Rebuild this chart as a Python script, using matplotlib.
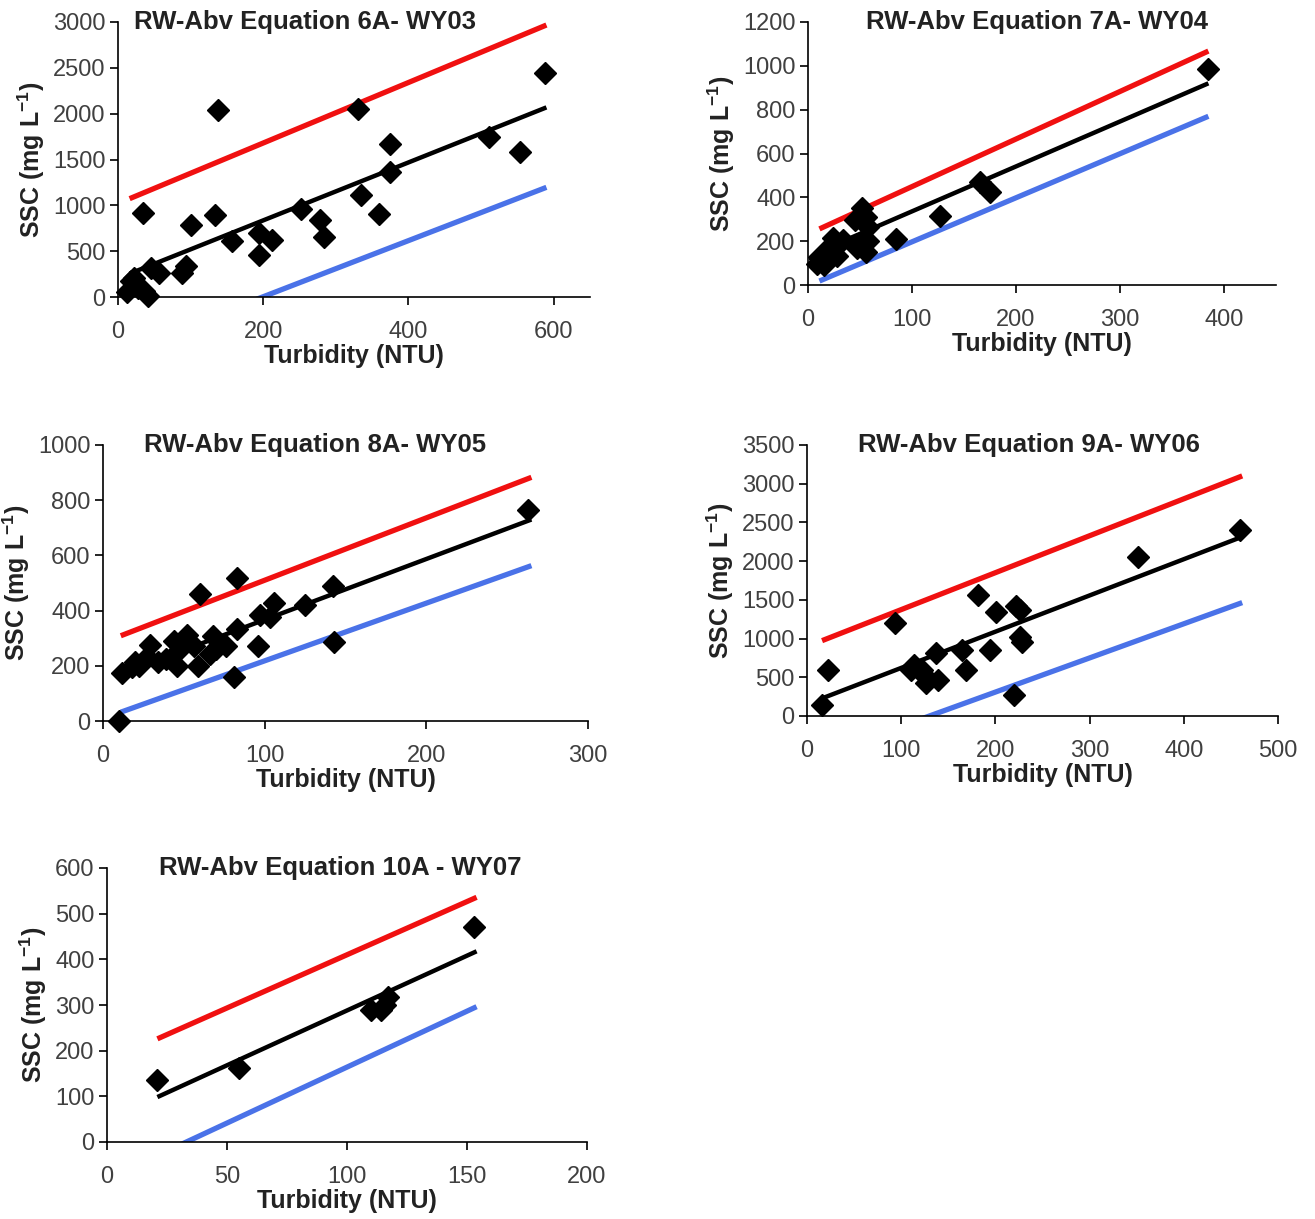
import numpy as np
import matplotlib
matplotlib.use('Agg')
import matplotlib.pyplot as plt

plt.rcParams['font.family'] = ['Liberation Sans', 'DejaVu Sans']
plt.rcParams['mathtext.fontset'] = 'custom'
plt.rcParams['mathtext.rm'] = 'Liberation Sans'
plt.rcParams['mathtext.bf'] = 'Liberation Sans:bold'

# Turbidity (NTU) and SSC (mg/L) samples for each water year
turb_wy03 = [13, 18, 22, 28, 36, 42, 46, 56, 35, 88, 94, 101, 133, 138, 157,
             194, 194, 212, 252, 278, 284, 331, 334, 360, 374, 374, 511, 554, 588]
ssc_wy03 = [55, 174, 207, 98, 65, 10, 316, 262, 916, 262, 338, 785, 891, 2036, 610,
            698, 458, 621, 964, 836, 655, 2055, 1109, 909, 1673, 1364, 1745, 1582, 2447]

turb_wy04 = [9, 11, 12, 15, 17, 21, 24, 28, 34, 45, 47, 52, 54, 56, 56, 58, 58,
             85, 127, 165, 175, 385]
ssc_wy04 = [95, 130, 118, 89, 150, 178, 215, 133, 207, 296, 170, 350, 210, 311, 150,
            265, 200, 211, 315, 470, 425, 984]

turb_wy05 = [10, 12, 18, 20, 22, 27, 29, 34, 39, 44, 46, 46, 51, 52, 56, 59, 60, 66,
             68, 70, 76, 81, 83, 83, 96, 97, 103, 106, 125, 142, 143, 263]
ssc_wy05 = [0, 175, 195, 213, 201, 231, 275, 213, 225, 291, 249, 200, 297, 310, 273,
            201, 460, 243, 309, 261, 273, 159, 333, 518, 272, 383, 378, 429, 420, 488,
            285, 763]

turb_wy06 = [16, 22, 93, 110, 114, 122, 124, 126, 137, 139, 165, 169, 182, 194, 201,
             220, 222, 226, 226, 228, 351, 460]
ssc_wy06 = [142, 594, 1205, 594, 659, 594, 529, 422, 809, 465, 852, 594, 1563, 852,
            1347, 271, 1420, 1024, 1370, 960, 2058, 2402]

turb_wy07 = [21, 55, 110, 114, 116, 117, 153]
ssc_wy07 = [135, 162, 288, 290, 300, 318, 470]

# Regression line and upper/lower bounds: (intercept, slope) over the sampled range
fit_range = [(16, 590), (11, 385), (11, 265), (16, 462), (21, 154)]
fit_mid = [(204, 3.16), (131, 2.05), (147, 2.20), (153, 4.68), (48, 2.40)]
fit_upper = [(1020, 3.30), (232, 2.17), (284, 2.26), (897, 4.77), (177, 2.33)]
fit_lower = [(-609, 3.06), (-4, 2.01), (9, 2.09), (-573, 4.41), (-81, 2.45)]

titles = ['RW-Abv Equation 6A- WY03', 'RW-Abv Equation 7A- WY04',
          'RW-Abv Equation 8A- WY05', 'RW-Abv Equation 9A- WY06',
          'RW-Abv Equation 10A - WY07']
x_limits = [650, 450, 300, 500, 200]
x_steps = [200, 100, 100, 100, 50]
y_limits = [3000, 1200, 1000, 3500, 600]
y_steps = [500, 200, 200, 500, 100]

turb = [turb_wy03, turb_wy04, turb_wy05, turb_wy06, turb_wy07]
ssc = [ssc_wy03, ssc_wy04, ssc_wy05, ssc_wy06, ssc_wy07]

W, H = 1315, 1219
# axes boxes in pixels: left, right, top, bottom
boxes = [(118, 590, 22, 297), (808, 1276, 22, 285), (103, 588, 445, 721),
         (807, 1278, 445, 716), (107, 587, 868, 1142)]
title_pos = [0.396, 0.49, 0.437, 0.471, 0.485]

fig = plt.figure(figsize=(W / 100, H / 100), dpi=100)

for i in range(5):
    l, r, t, b = boxes[i]
    ax = fig.add_axes([l / W, 1 - b / H, (r - l) / W, (b - t) / H])

    x0, x1 = fit_range[i]
    xs = np.array([x0, x1])
    ax.plot(xs, fit_upper[i][0] + fit_upper[i][1] * xs, color='#f01010', lw=3.8,
            solid_capstyle='butt')
    ax.plot(xs, fit_lower[i][0] + fit_lower[i][1] * xs, color='#4a72e8', lw=3.8,
            solid_capstyle='butt')
    ax.plot(xs, fit_mid[i][0] + fit_mid[i][1] * xs, color='black', lw=3.2,
            solid_capstyle='butt')
    ax.plot(turb[i], ssc[i], 'D', color='black', markersize=11, clip_on=False)

    ax.set_xlim(0, x_limits[i])
    ax.set_ylim(0, y_limits[i])
    ax.set_xticks(np.arange(0, x_limits[i] + 1, x_steps[i]))
    ax.set_yticks(np.arange(0, y_limits[i] + 1, y_steps[i]))
    for side in ['top', 'right']:
        ax.spines[side].set_visible(False)
    for side in ['left', 'bottom']:
        ax.spines[side].set_linewidth(1.2)
    ax.tick_params(axis='both', direction='out', length=6, width=1.2,
                   labelsize=17, labelcolor='#404040', pad=3)
    ax.tick_params(axis='x', pad=11)

    ax.set_xlabel('Turbidity (NTU)', fontsize=18, fontweight='bold',
                  color='#222222', labelpad=1)
    ax.set_ylabel(r'SSC (mg L$^{\mathbf{-1}}$)', fontsize=18, fontweight='bold',
                  color='#222222', labelpad=4)
    ax.text(title_pos[i], 1.0, titles[i], transform=ax.transAxes, ha='center',
            va='center', fontsize=18.5, fontweight='bold', color='#222222')

fig.savefig('out.png', dpi=100)
